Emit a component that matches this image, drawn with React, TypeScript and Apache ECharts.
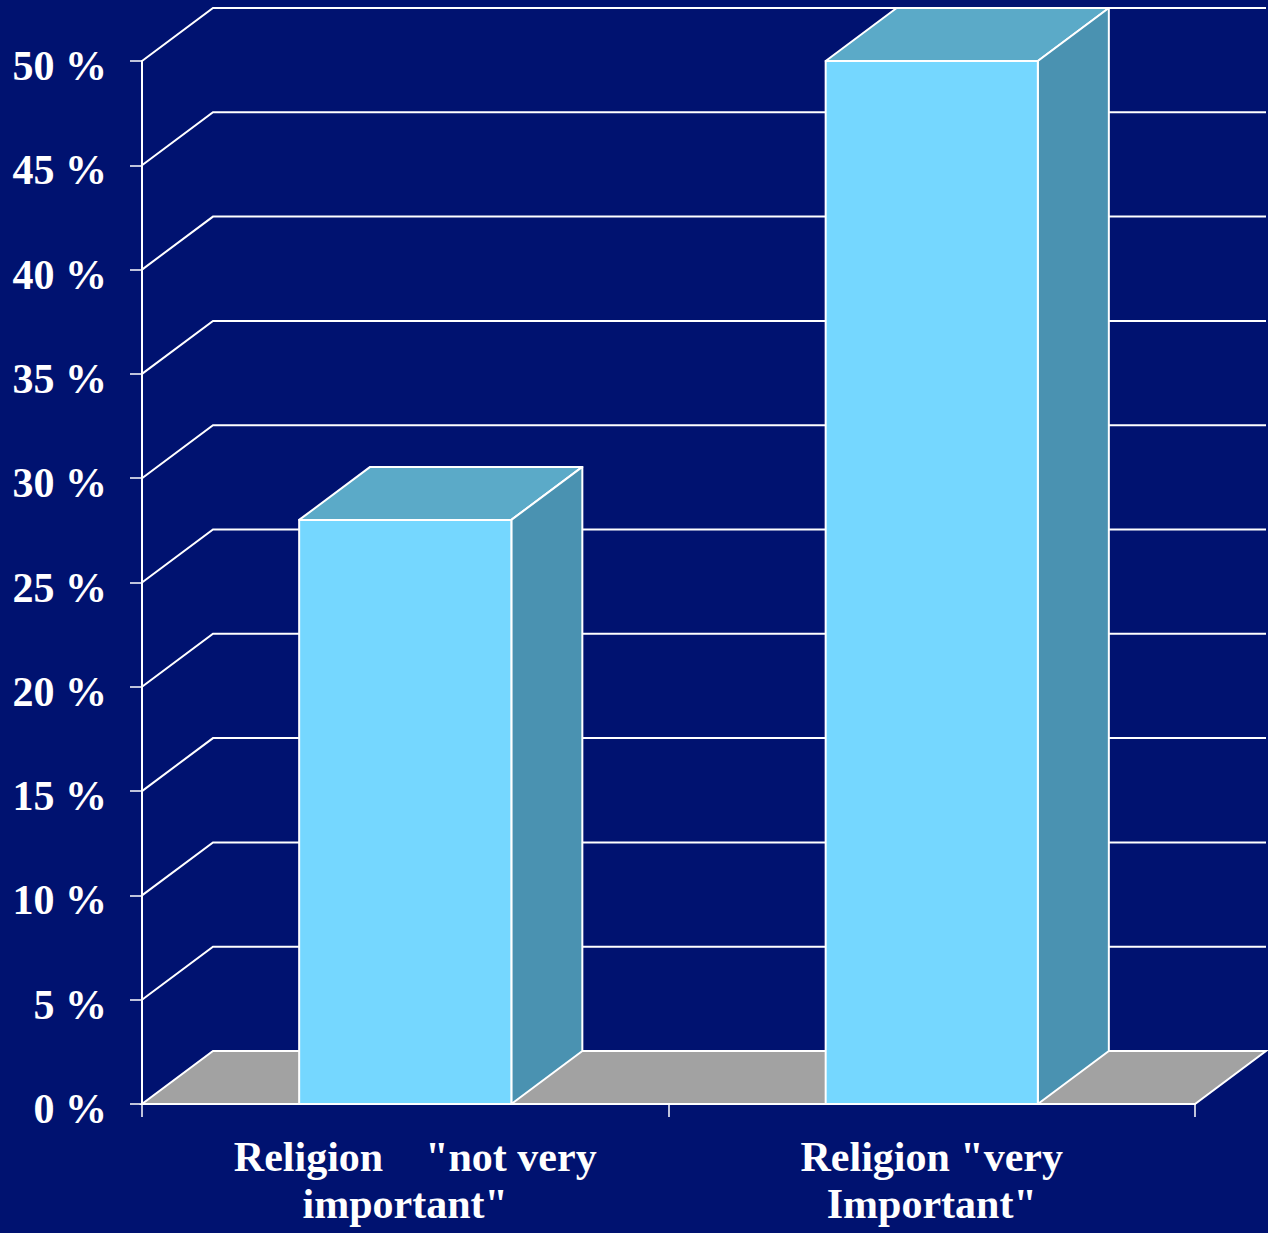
import React, { useEffect, useRef } from "react";
import * as echarts from "echarts";

const categories = ['Religion    "not very\nimportant"', 'Religion "very\nImportant"'];
const values = [28, 50];
const yTicks = [5, 10, 15, 20, 25, 30, 35, 40, 45, 50];

const BG = "#001270";
const FRONT = "#75D7FF";
const TOP = "#5BAAC8";
const SIDE = "#4A92B1";
const FLOOR = "#A2A2A2";
const DX = 71;
const DY = 53;
const BAR_FRACTION = 0.403;
const FONT = "'Liberation Serif', 'Times New Roman', serif";
const FS = 42;

export default function App() {
  const ref = useRef<HTMLDivElement>(null);
  useEffect(() => {
    document.body.style.margin = "0";
    const chart = echarts.init(ref.current!, null, { renderer: "svg" });
    chart.setOption({
      animation: false,
      backgroundColor: BG,
      grid: { left: 142, right: 73, top: 61, bottom: 129 },
      xAxis: {
        type: "category",
        data: categories,
        axisLine: { lineStyle: { color: "#ffffff", width: 2 } },
        axisTick: { show: true, length: 13, lineStyle: { color: "#ffffff", width: 1.5 } },
        axisLabel: {
          interval: 0,
          color: "#ffffff",
          fontFamily: FONT,
          fontWeight: "bold",
          fontSize: FS,
          lineHeight: 47,
          margin: 29,
          formatter: (v: string, i: number) => {
            const lines = v.split("\n");
            if (i === 0) return `{a|${lines[0]}}\n{b|${lines[1]}}`;
            return `{b|${lines[0]}}\n{b|${lines[1]}}`;
          },
          rich: {
            a: { color: "#ffffff", fontFamily: FONT, fontWeight: "bold", fontSize: FS, lineHeight: 47, padding: [0, 0, 0, 20] },
            b: { color: "#ffffff", fontFamily: FONT, fontWeight: "bold", fontSize: FS, lineHeight: 47 },
          },
        },
        splitLine: { show: false },
      },
      yAxis: {
        type: "value",
        min: 0,
        max: 50,
        interval: 5,
        axisLine: { show: true, lineStyle: { color: "#ffffff", width: 2 } },
        axisTick: { show: true, length: 12, lineStyle: { color: "#ffffff", width: 1.5 } },
        axisLabel: {
          color: "#ffffff",
          fontFamily: FONT,
          fontWeight: "bold",
          fontSize: FS,
          margin: 35,
          formatter: (v: number) => `{v|${v} %}`,
          rich: {
            v: { color: "#ffffff", fontFamily: FONT, fontWeight: "bold", fontSize: FS, padding: [10, 0, 0, 0] },
          },
        },
        splitLine: { show: false },
      },
      series: [
        {
          type: "custom",
          z: 1,
          silent: true,
          clip: false,
          data: yTicks.map((v) => [0, v]),
          renderItem: (params: any, api: any) => {
            const cs = params.coordSys;
            const p = api.coord([0, api.value(1)]);
            const y = p[1];
            return {
              type: "polyline",
              shape: {
                points: [
                  [cs.x, y],
                  [cs.x + DX, y - DY],
                  [cs.x + cs.width + DX, y - DY],
                ],
              },
              style: { stroke: "#ffffff", lineWidth: 2, fill: "none" },
            };
          },
        },
        {
          type: "custom",
          z: 2,
          silent: true,
          clip: false,
          data: [[0, 0]],
          renderItem: (params: any, api: any) => {
            const cs = params.coordSys;
            const y = api.coord([0, 0])[1];
            return {
              type: "polygon",
              shape: {
                points: [
                  [cs.x, y],
                  [cs.x + cs.width, y],
                  [cs.x + cs.width + DX, y - DY],
                  [cs.x + DX, y - DY],
                ],
              },
              style: { fill: FLOOR, stroke: "#ffffff", lineWidth: 2 },
            };
          },
        },
        {
          type: "custom",
          z: 3,
          clip: false,
          data: values.map((v, i) => [i, v]),
          renderItem: (params: any, api: any) => {
            const idx = api.value(0);
            const v = api.value(1);
            const base = api.coord([idx, 0]);
            const top = api.coord([idx, v]);
            const band = api.size([1, 0])[0];
            const hw = (band * BAR_FRACTION) / 2;
            const xl = base[0] - hw;
            const xr = base[0] + hw;
            const yb = base[1];
            const yt = top[1];
            const st = { stroke: "#ffffff", lineWidth: 2, lineJoin: "round" };
            return {
              type: "group",
              children: [
                {
                  type: "polygon",
                  shape: { points: [[xl, yt], [xr, yt], [xr + DX, yt - DY], [xl + DX, yt - DY]] },
                  style: { fill: TOP, ...st },
                },
                {
                  type: "polygon",
                  shape: { points: [[xr, yb], [xr + DX, yb - DY], [xr + DX, yt - DY], [xr, yt]] },
                  style: { fill: SIDE, ...st },
                },
                {
                  type: "rect",
                  shape: { x: xl, y: yt, width: xr - xl, height: yb - yt },
                  style: { fill: FRONT, ...st },
                },
              ],
            };
          },
        },
      ],
    });
    return () => chart.dispose();
  }, []);
  return <div ref={ref} style={{ position: "absolute", left: 0, top: 0, width: 1268, height: 1233 }} />;
}
